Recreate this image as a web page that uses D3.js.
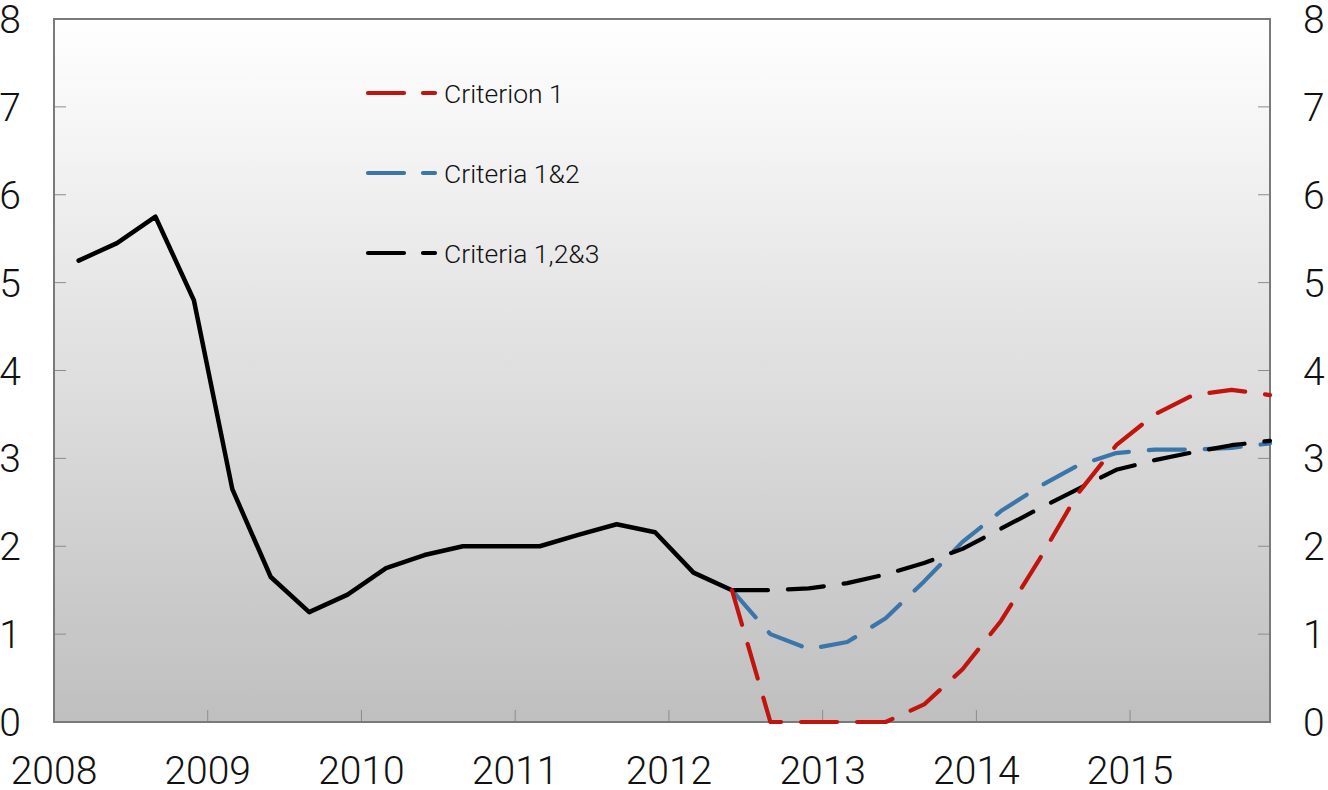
<!DOCTYPE html>
<html>
<head>
<meta charset="utf-8">
<script src="https://cdn.jsdelivr.net/npm/d3@7"></script>
<style>
  body { margin: 0; background: #fff; }
  svg text { font-family: Roboto, "Liberation Sans", sans-serif; font-weight: 300; fill: #111; }
</style>
</head>
<body>
<div id="graph"></div>
<script>
// quarterly series, 2008Q1 .. 2015Q4
var years = [2008, 2009, 2010, 2011, 2012, 2013, 2014, 2015];
var quarters = [];
years.forEach(function(y){ [1,2,3,4].forEach(function(q){ quarters.push(y + "Q" + q); }); });

// outcome up to 2012Q2 (index 0..17)
var outcome = [5.25, 5.45, 5.75, 4.8, 2.65, 1.65, 1.25, 1.45, 1.75, 1.9, 2.0, 2.0, 2.0, 2.13, 2.25, 2.16, 1.7, 1.5];

// forecasts from 2012Q2 (index 17..31)
var criterion1 = [1.5, 0, 0, 0, 0, 0.2, 0.6, 1.15, 1.85, 2.6, 3.15, 3.5, 3.72, 3.78, 3.72];
var criteria12 = [1.5, 1.0, 0.83, 0.91, 1.18, 1.6, 2.05, 2.4, 2.68, 2.92, 3.06, 3.1, 3.1, 3.12, 3.17];
var criteria123 = [1.5, 1.5, 1.52, 1.58, 1.68, 1.81, 1.97, 2.2, 2.43, 2.65, 2.87, 2.98, 3.07, 3.15, 3.2];

var yTicks = [0, 1, 2, 3, 4, 5, 6, 7, 8];
var legendNames = ["Criterion 1", "Criteria 1&2", "Criteria 1,2&3"];
var colors = ["#c0140c", "#3a76a9", "#000000"];

(function(){
  "use strict";
  var width = 1328, height = 790;
  var left = 54, right = 1270, top = 19, bottom = 722;

  var svg = d3.select("#graph").append("svg")
      .attr("width", width)
      .attr("height", height);

  // date of each quarter as decimal year
  function qPos(i) {
    var y = +quarters[i].slice(0, 4), q = +quarters[i].slice(5);
    return y + (q - 1) * 0.25 + 0.16;
  }

  var xScale = d3.scaleLinear()
      .domain([2008, qPos(quarters.length - 1)])
      .range([left, right]);
  var yScale = d3.scaleLinear()
      .domain([0, 8])
      .range([bottom, top]);

  // gradient background
  var grad = svg.append("defs").append("linearGradient")
      .attr("id", "bg").attr("x1", 0).attr("y1", 0).attr("x2", 0).attr("y2", 1);
  grad.append("stop").attr("offset", "0%").attr("stop-color", "#ffffff");
  grad.append("stop").attr("offset", "100%").attr("stop-color", "#bfbfbf");

  svg.append("rect")
      .attr("x", left).attr("y", top)
      .attr("width", right - left).attr("height", bottom - top)
      .attr("fill", "url(#bg)");

  // inward ticks
  var tickG = svg.append("g").attr("stroke", "#8c8c8c").attr("stroke-width", 1);
  tickG.selectAll(".lt").data(yTicks.slice(1, -1)).enter().append("line")
      .attr("x1", left).attr("x2", left + 12)
      .attr("y1", function(d){ return yScale(d); }).attr("y2", function(d){ return yScale(d); });
  tickG.selectAll(".rt").data(yTicks.slice(1, -1)).enter().append("line")
      .attr("x1", right - 12).attr("x2", right)
      .attr("y1", function(d){ return yScale(d); }).attr("y2", function(d){ return yScale(d); });
  tickG.selectAll(".bt").data(years.slice(1)).enter().append("line")
      .attr("x1", function(d){ return xScale(d); }).attr("x2", function(d){ return xScale(d); })
      .attr("y1", bottom - 12).attr("y2", bottom);

  // frame
  svg.append("rect")
      .attr("x", left).attr("y", top)
      .attr("width", right - left).attr("height", bottom - top)
      .attr("fill", "none").attr("stroke", "#7a7a7a").attr("stroke-width", 2);

  // axis labels
  svg.selectAll(".yl").data(yTicks).enter().append("text")
      .attr("x", 21).attr("y", function(d){ return yScale(d); })
      .attr("dy", "0.36em").attr("text-anchor", "end")
      .style("font-size", "39px").text(function(d){ return d; });
  svg.selectAll(".yr").data(yTicks).enter().append("text")
      .attr("x", 1303).attr("y", function(d){ return yScale(d); })
      .attr("dy", "0.36em").attr("text-anchor", "start")
      .style("font-size", "39px").text(function(d){ return d; });
  svg.selectAll(".xl").data(years).enter().append("text")
      .attr("x", function(d){ return xScale(d); }).attr("y", 784)
      .attr("text-anchor", "middle")
      .style("font-size", "39px").text(function(d){ return d; });

  var line = d3.line()
      .x(function(d){ return xScale(qPos(d.i)); })
      .y(function(d){ return yScale(d.v); });

  function toPts(arr, start) {
    return arr.map(function(v, k){ return { i: start + k, v: v }; });
  }

  var start = outcome.length - 1;
  var series = [
    { data: criteria12, color: colors[1] },
    { data: criteria123, color: colors[2] },
    { data: criterion1, color: colors[0] }
  ];

  svg.append("path")
      .attr("d", line(toPts(outcome, 0)))
      .attr("fill", "none").attr("stroke", "#000")
      .attr("stroke-width", 4.5).attr("stroke-linejoin", "round").attr("stroke-linecap", "round");

  series.forEach(function(s){
    svg.append("path")
        .attr("d", line(toPts(s.data, start)))
        .attr("fill", "none").attr("stroke", s.color)
        .attr("stroke-width", 4.2)
        .attr("stroke-dasharray", "36,20")
        .attr("stroke-linecap", "round").attr("stroke-linejoin", "round");
  });

  // legend
  var leg = svg.selectAll(".leg").data(legendNames).enter().append("g")
      .attr("transform", function(d, i){ return "translate(0," + (93 + i * 80) + ")"; });
  leg.append("line")
      .attr("x1", 368).attr("x2", 435).attr("y1", 0).attr("y2", 0)
      .attr("stroke", function(d, i){ return colors[i]; })
      .attr("stroke-width", 4.2).attr("stroke-dasharray", "36,19").attr("stroke-linecap", "round");
  leg.append("text")
      .attr("x", 444).attr("y", 0).attr("dy", "0.36em")
      .style("font-size", "26.5px").text(function(d){ return d; });
})();
</script>
</body>
</html>
